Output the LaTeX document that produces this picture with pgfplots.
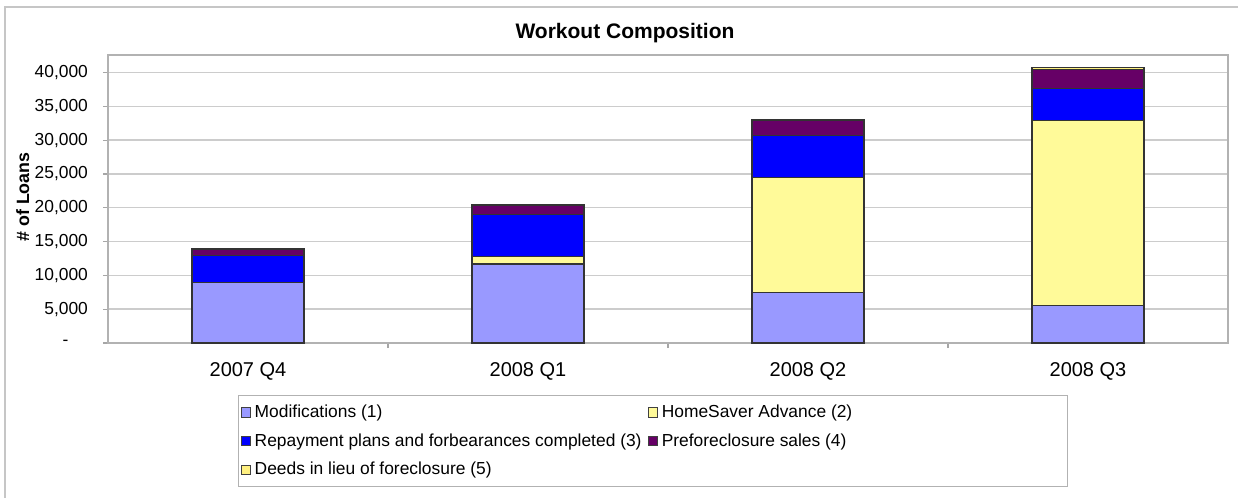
\documentclass[border=0pt]{standalone}
\usepackage{fontspec}
\setmainfont{Liberation Sans}
\usepackage{pgfplots}
\pgfplotsset{compat=1.18}
\definecolor{cmod}{HTML}{9999FF}
\definecolor{chsa}{HTML}{FFFA99}
\definecolor{crep}{HTML}{0000FF}
\definecolor{cpre}{HTML}{660066}
\definecolor{cdee}{HTML}{FFF080}
\begin{document}
\begin{tikzpicture}
\useasboundingbox (-54pt,-77.5pt) rectangle (565pt,171.5pt);
\draw[gray!45, line width=0.8pt] (-51.5pt,-90pt) -- (-51.5pt,168pt) -- (580pt,168pt);
\begin{axis}[
  width=560pt, height=144pt, scale only axis,
  xmin=-0.5, xmax=3.5, ymin=0, ymax=42600,
  ybar stacked, bar width=56pt,
  scaled y ticks=false,
  xtick={0.5,1.5,2.5}, xticklabels={},
  extra x ticks={0,1,2,3},
  extra x tick labels={2007 Q4,2008 Q1,2008 Q2,2008 Q3},
  extra x tick style={major tick length=0pt, grid=none},
  xticklabel style={font=\fontsize{10pt}{12pt}\selectfont, yshift=-6pt},
  ytick={0,5000,10000,15000,20000,25000,30000,35000,40000},
  yticklabels={{\makebox[12.6pt][l]{-}},{5,000},{10,000},{15,000},{20,000},{25,000},{30,000},{35,000},{40,000}},
  yticklabel style={font=\fontsize{8.7pt}{10pt}\selectfont, xshift=-4pt},
  ymajorgrids, grid style={gray!40, line width=0.7pt},
  tick align=outside, major tick length=2.5pt,
  xtick pos=bottom, ytick pos=left,
  axis line style={gray!60, line width=0.6pt},
  tick style={gray!70, line width=0.6pt},
  ylabel={\bfseries \# of Loans},
  ylabel style={at={(rel axis cs:-0.076,0.507)}, anchor=center, font=\fontsize{8.9pt}{10pt}\selectfont},
  legend image code/.code={\draw[#1, draw=black!75, line width=0.5pt] (0pt,-2.3pt) rectangle (4.6pt,2.3pt);},
  legend style={at={(rel axis cs:0.116,-0.1806)}, anchor=north west, legend columns=2,
    draw=gray!60, line width=0.6pt, font=\fontsize{8.7pt}{10pt}\selectfont,
    cells={anchor=west}, row sep=2.6pt, inner xsep=1pt, inner ysep=2.5pt,
    /tikz/every odd column/.append style={column sep=0pt},
    /tikz/every even column/.append style={column sep=1pt}},
]
\addplot[fill=cmod, draw=black!80, line width=0.6pt] coordinates {(0,9000) (1,11700) (2,7500) (3,5500)};
\addlegendentry{Modifications (1)}
\addplot[fill=chsa, draw=black!80, line width=0.6pt] coordinates {(0,0) (1,1100) (2,17000) (3,27400)};
\addlegendentry{\makebox[200pt][l]{HomeSaver Advance (2)}}
\addplot[fill=crep, draw=black!80, line width=0.6pt] coordinates {(0,4000) (1,6150) (2,6200) (3,4700)};
\addlegendentry{Repayment plans and forbearances completed (3)}
\addplot[fill=cpre, draw=black!80, line width=0.6pt] coordinates {(0,900) (1,1450) (2,2200) (3,2800)};
\addlegendentry{Preforeclosure sales (4)}
\addplot[fill=cdee, draw=black!80, line width=0.6pt] coordinates {(0,50) (1,50) (2,100) (3,400)};
\addlegendentry{Deeds in lieu of foreclosure (5)}
\end{axis}
\node[font=\fontsize{10.5pt}{12pt}\selectfont\bfseries] at (258.5pt,155pt) {Workout Composition};
\end{tikzpicture}
\end{document}
